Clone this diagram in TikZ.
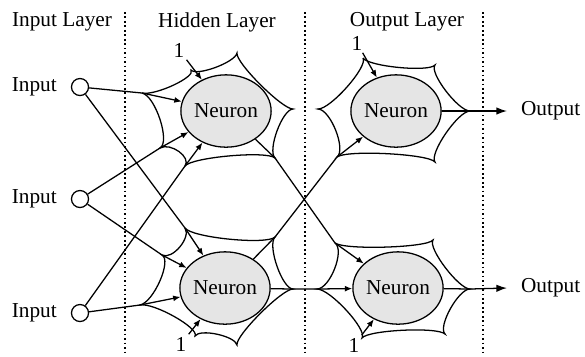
\documentclass[tikz,border=0pt]{standalone}
\usepackage{fontspec}
\setmainfont{Liberation Serif}
\usetikzlibrary{calc,positioning,shapes.geometric,arrows.meta}

\begin{document}
\begin{tikzpicture}[x=0.47pt, y=-0.47pt, line width=0.6pt,
	neuron/.style = {ellipse, draw, fill=gray!20, minimum width=38pt,
	minimum height=34pt, inner sep=0pt},
	inp/.style = {circle, draw, minimum size=8pt, inner sep=0pt},
	bias/.style = {inner sep=1pt},
	edge/.style = {-{Latex[length=3.5pt,width=2.8pt]}},
	outedge/.style = {-{Latex[length=5pt,width=3.5pt]}},
	sep/.style = {line width=0.9pt, dash pattern=on 0.8pt off 1.3pt},
	inbend/.style = {to path={.. controls ($(#1)!0.84!(\tikztostart)$)
	and ($(#1)!0.84!(\tikztotarget)$) .. (\tikztotarget)}}]

	\useasboundingbox (0,0) rectangle (585,356);

	% layer separators
	\draw[sep] (125,12) -- (125,356);
	\draw[sep] (305,12) -- (305,356);
	\draw[sep] (483,12) -- (483,356);

	\node (lay1) at ( 62,22) {Input Layer};
	\node (lay2) at (217,22) {Hidden Layer};
	\node (lay3) at (407,22) {Output Layer};

	% neuron centres and dendrite tips
	\coordinate (c1) at (226,111);
	\coordinate (c2) at (225,288);
	\coordinate (c3) at (396,111);
	\coordinate (c4) at (398,288);

	\coordinate (h1a) at (142, 93);
	\coordinate (h1b) at (191, 70);
	\coordinate (h1c) at (237, 53);
	\coordinate (h1d) at (293,109);
	\coordinate (h1e) at (275,158);
	\coordinate (h1f) at (185,166);
	\coordinate (h1g) at (160,148);

	\coordinate (h2a) at (185,228);
	\coordinate (h2b) at (275,237);
	\coordinate (h2c) at (293,289);
	\coordinate (h2d) at (237,345);
	\coordinate (h2e) at (195,336);
	\coordinate (h2f) at (140,305);
	\coordinate (h2g) at (162,255);

	\coordinate (o1a) at (363, 58);
	\coordinate (o1b) at (435, 65);
	\coordinate (o1c) at (470,111);
	\coordinate (o1d) at (435,162);
	\coordinate (o1e) at (337,157);
	\coordinate (o1f) at (318,109);

	\coordinate (o2a) at (335,243);
	\coordinate (o2b) at (433,240);
	\coordinate (o2c) at (470,289);
	\coordinate (o2d) at (445,334);
	\coordinate (o2e) at (362,338);
	\coordinate (o2f) at (317,289);

	% dendrites
	\draw (h1a) to[inbend=c1] (h1b) to[inbend=c1] (h1c) to[inbend=c1] (h1d)
		to[inbend=c1] (h1e) to[inbend=c1] (h1f) to[inbend=c1] (h1g) to[inbend=c1] (h1a);
	\draw (h2a) to[inbend=c2] (h2b) to[inbend=c2] (h2c) to[inbend=c2] (h2d)
		to[inbend=c2] (h2e) to[inbend=c2] (h2f) to[inbend=c2] (h2g) to[inbend=c2] (h2a);
	\draw (o1a) to[inbend=c3] (o1b) to[inbend=c3] (o1c) to[inbend=c3] (o1d)
		to[inbend=c3] (o1e) to[inbend=c3] (o1f) to[inbend=c3] (o1a);
	\draw (o2a) to[inbend=c4] (o2b) to[inbend=c4] (o2c) to[inbend=c4] (o2d)
		to[inbend=c4] (o2e) to[inbend=c4] (o2f) to[inbend=c4] (o2a);

	\node (h1) [neuron] at (c1) {Neuron};
	\node (h2) [neuron] at (c2) {Neuron};
	\node (o1) [neuron] at (c3) {Neuron};
	\node (o2) [neuron] at (c4) {Neuron};

	% inputs
	\node (in1) [inp] at (80, 87) {};
	\node (in2) [inp] at (80,199) {};
	\node (in3) [inp] at (80,313) {};
	\node [left=3pt of in1] {Input};
	\node [left=3pt of in2] {Input};
	\node [left=3pt of in3] {Input};

	\draw (in1) -- (h1a);  \draw[edge] (h1a) -- (h1);
	\draw (in1) -- (h2a);  \draw[edge] (h2a) -- (h2);
	\draw (in2) -- (h1g);  \draw[edge] (h1g) -- (h1);
	\draw (in2) -- (h2g);  \draw[edge] (h2g) -- (h2);
	\draw (in3) -- (h1f);  \draw[edge] (h1f) -- (h1);
	\draw (in3) -- (h2f);  \draw[edge] (h2f) -- (h2);

	% bias
	\node (b1) [bias] at (179, 50) {1};
	\node (b2) [bias] at (181,344) {1};
	\node (b3) [bias] at (357, 43) {1};
	\node (b4) [bias] at (354,345) {1};
	\draw[edge] (b1) -- (h1);
	\draw[edge] (b2) -- (h2);
	\draw[edge] (b3) -- (o1);
	\draw[edge] (b4) -- (o2);

	% hidden to output
	\draw (h1) -- (h1e) -- (o2a);  \draw[edge] (o2a) -- (o2);
	\draw (h2) -- (h2b) -- (o1e);  \draw[edge] (o1e) -- (o1);
	\draw (h2) -- (h2c) -- (o2f);  \draw[edge] (o2f) -- (o2);

	% outputs
	\coordinate (y1) at (507,111);
	\coordinate (y2) at (507,288);
	\node (out1) [right=3pt of y1] {Output};
	\node (out2) [right=3pt of y2] {Output};
	\draw[outedge] (o1) -- (o1c) -- (y1);
	\draw[outedge] (o2) -- (o2c) -- (y2);
\end{tikzpicture}
\end{document}
